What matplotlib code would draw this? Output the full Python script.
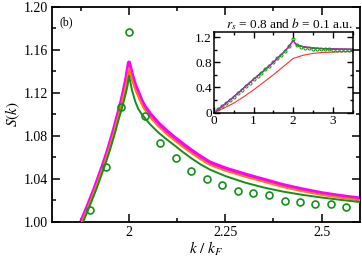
import numpy as np
import matplotlib
matplotlib.use("Agg")
import matplotlib.pyplot as plt
from matplotlib.ticker import MultipleLocator

plt.rcParams['font.family'] = ['Liberation Serif', 'DejaVu Serif']
plt.rcParams['mathtext.fontset'] = 'stix'

# main panel: curves
k_mag = [1.876, 1.890, 1.900, 1.910, 1.920, 1.933, 1.945, 1.959, 1.968, 1.977, 1.985,
         1.992, 2.000, 2.008, 2.016, 2.024, 2.032, 2.040, 2.055, 2.076, 2.100, 2.120,
         2.140, 2.160, 2.185, 2.210, 2.250, 2.300, 2.350, 2.400, 2.450, 2.500, 2.550, 2.600]
s_mag = [1.000, 1.012, 1.021, 1.030, 1.040, 1.053, 1.066, 1.083, 1.095, 1.107, 1.119,
         1.131, 1.148, 1.136, 1.127, 1.120, 1.113, 1.1075, 1.100, 1.0915, 1.0835, 1.0776,
         1.0720, 1.0667, 1.0605, 1.0550, 1.0495, 1.0440, 1.0390, 1.0340, 1.0300, 1.0265,
         1.0238, 1.0215]

k_org = [1.878, 1.892, 1.902, 1.912, 1.922, 1.935, 1.947, 1.961, 1.970, 1.979, 1.987,
         1.994, 2.000, 2.008, 2.016, 2.024, 2.032, 2.040, 2.055, 2.076, 2.100, 2.120,
         2.140, 2.160, 2.185, 2.210, 2.250, 2.300, 2.350, 2.400, 2.450, 2.500, 2.550, 2.600]
s_org = [1.000, 1.012, 1.021, 1.030, 1.040, 1.053, 1.066, 1.083, 1.095, 1.107, 1.119,
         1.130, 1.143, 1.132, 1.123, 1.1165, 1.110, 1.1045, 1.097, 1.0887, 1.0808, 1.0750,
         1.0695, 1.0643, 1.0582, 1.0528, 1.0474, 1.0420, 1.0371, 1.0322, 1.0283, 1.0249,
         1.0223, 1.0200]

k_grn = [1.881, 1.895, 1.905, 1.915, 1.925, 1.938, 1.950, 1.964, 1.973, 1.982, 1.990,
         1.996, 2.000, 2.008, 2.016, 2.024, 2.032, 2.040, 2.055, 2.076, 2.100, 2.120,
         2.140, 2.160, 2.185, 2.210, 2.250, 2.300, 2.350, 2.400, 2.450, 2.500, 2.550, 2.600]
s_grn = [1.000, 1.012, 1.021, 1.030, 1.040, 1.053, 1.066, 1.083, 1.095, 1.106, 1.117,
         1.126, 1.136, 1.122, 1.112, 1.105, 1.1005, 1.0970, 1.0905, 1.0830, 1.0760, 1.0705,
         1.0648, 1.0595, 1.0535, 1.0485, 1.0425, 1.0365, 1.0318, 1.0280, 1.0250, 1.0225,
         1.0203, 1.0183]

# simulation points (open circles)
k_pts = [1.899, 1.940, 1.979, 2.000, 2.041, 2.080, 2.121, 2.161, 2.202, 2.242, 2.283,
         2.323, 2.363, 2.404, 2.444, 2.484, 2.525, 2.564]
s_pts = [1.0106, 1.0512, 1.107, 1.176, 1.0983, 1.0729, 1.0593, 1.0476, 1.0394, 1.034,
         1.0283, 1.027, 1.0251, 1.0193, 1.018, 1.0163, 1.0163, 1.0135]

# inset: full range
k_in = [0.0, 0.25, 0.5, 0.75, 1.0, 1.25, 1.5, 1.75, 1.9, 2.0, 2.05, 2.1, 2.25, 2.5,
        2.75, 3.0, 3.25, 3.5]
s_in = [0.0, 0.12, 0.25, 0.39, 0.53, 0.66, 0.80, 0.95, 1.05, 1.15, 1.10, 1.07, 1.045,
        1.025, 1.015, 1.01, 1.007, 1.005]
k_red = [0.0, 0.25, 0.5, 0.75, 1.0, 1.25, 1.5, 1.75, 2.0, 2.25, 2.5, 2.75, 3.0, 3.25, 3.5]
s_red = [0.0, 0.07, 0.15, 0.25, 0.36, 0.48, 0.60, 0.73, 0.86, 0.91, 0.94, 0.955, 0.96,
         0.967, 0.97]
k_in_pts = [0.1, 0.2, 0.3, 0.4, 0.5, 0.6, 0.7, 0.8, 0.9, 1.0, 1.1, 1.2, 1.3, 1.4, 1.5,
            1.6, 1.7, 1.8, 1.9, 2.0, 2.1, 2.2, 2.3, 2.4, 2.5, 2.6, 2.7, 2.8, 2.9, 3.0,
            3.1, 3.2, 3.3, 3.4, 3.5]
s_in_pts = [0.05, 0.10, 0.15, 0.20, 0.25, 0.31, 0.36, 0.42, 0.47, 0.53, 0.58, 0.63, 0.69,
            0.74, 0.80, 0.86, 0.92, 0.98, 1.05, 1.17, 1.07, 1.04, 1.03, 1.02, 1.015, 1.01,
            1.01, 1.005, 1.005, 1.0, 1.0, 1.0, 1.0, 1.0, 1.0]

fig = plt.figure(figsize=(3.62, 2.60), dpi=100)
ax = fig.add_axes([0.1436, 0.1473, 0.851, 0.827])

ax.plot(k_mag, s_mag, color='#ff00ff', lw=3.0, zorder=2)
ax.plot(k_org, s_org, color='#ff8000', lw=1.4, zorder=3)
ax.plot(k_grn, s_grn, color='#12901a', lw=1.4, zorder=4)
ax.plot(k_pts, s_pts, 'o', mfc='none', mec='#12901a', mew=1.2, ms=5, zorder=5)

ax.set_xlim(1.8, 2.6)
ax.set_ylim(1.0, 1.2)
ax.xaxis.set_minor_locator(MultipleLocator(0.125))
ax.yaxis.set_major_locator(MultipleLocator(0.04))
ax.yaxis.set_minor_locator(MultipleLocator(0.02))
ax.set_xticks([2, 2.25, 2.5])
ax.set_xticklabels(['2', '2.25', '2.5'])
ax.set_yticks([1.0, 1.04, 1.08, 1.12, 1.16, 1.2])
ax.set_yticklabels(['1.00', '1.04', '1.08', '1.12', '1.16', '1.20'])
ax.tick_params(which='both', direction='in', top=True, right=True, labelsize=10, width=1.1)
ax.tick_params(which='major', length=6, pad=3)
ax.tick_params(which='minor', length=3)
for sp in ax.spines.values():
    sp.set_linewidth(1.3)
ax.set_xlabel('$k\\ /\\ k_F$', fontsize=11, labelpad=1)
ax.set_ylabel('$S(k)$', fontsize=11, labelpad=1)
ax.text(0.025, 0.955, '(b)', transform=ax.transAxes, fontsize=8.5, va='top')

# inset
ins = fig.add_axes([0.591, 0.567, 0.383, 0.310])
ins.plot(k_red, s_red, color='#ff3030', lw=0.8)
ins.plot(k_in, s_in, color='black', lw=0.8)
ins.plot(k_in, s_in, color='#ff00ff', lw=1.0)
ins.plot(k_in_pts, s_in_pts, 'o', mfc='none', mec='#12901a', mew=0.7, ms=2.2)
ins.set_xlim(0, 3.5)
ins.set_ylim(0, 1.28)
ins.set_xticks([0, 1, 2, 3])
ins.set_yticks([0, 0.4, 0.8, 1.2])
ins.set_yticklabels(['0', '0.4', '0.8', '1.2'])
ins.xaxis.set_minor_locator(MultipleLocator(0.5))
ins.yaxis.set_minor_locator(MultipleLocator(0.2))
ins.tick_params(which='both', direction='in', top=True, right=True, labelsize=9.5, width=1.0)
ins.tick_params(which='major', length=4, pad=1.5)
ins.tick_params(which='minor', length=2)
for sp in ins.spines.values():
    sp.set_linewidth(1.1)
ins.set_title('$r_s$ = 0.8 and $b$ = 0.1 a.u.', fontsize=9.5, pad=2, loc='right')

fig.savefig('out.png', dpi=100)
